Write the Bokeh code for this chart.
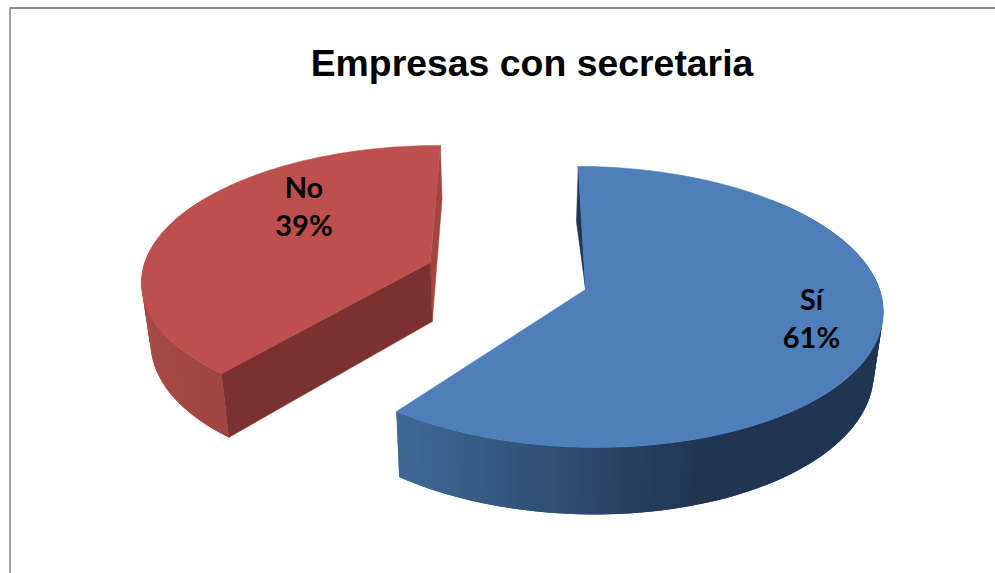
import numpy as np
from bokeh.core.properties import value
from bokeh.embed import file_html
from bokeh.models import Range1d
from bokeh.plotting import figure
from bokeh.resources import INLINE

# Chart content
title = "Empresas con secretaria"
categories = ["Sí", "No"]
shares = [61, 39]

# Colours
top_colours = ["#4e7fba", "#bd504c"]
front_wall = ["#1f3552", "#7c3130"]
back_wall = ["#1f3552", "#a5453f"]
rim_stops = [
    [(396, "#3f6998"), (500, "#34587f"), (600, "#2b4668"), (700, "#1f3552"), (890, "#1f3552")],
    [(140, "#a64b46"), (230, "#9e4541")],
]

# Projection of the tilted, exploded pie
WIDTH, HEIGHT = 995, 573
OX, OY = 506.5, 275.3
SCALE_X, SCALE_Y = 290.5, 135.0
PERSPECTIVE = 0.1225
EXPLODE_X, EXPLODE_Y = 0.267, 0.10
FIRST_ANGLE = -0.5
LOWER_SHRINK = 0.975
LOWER_DROP = 59.7
LOWER_STRETCH = 0.0427
# Per-slice corrections for the foreshortening of the 3D view
START_TRIM = [0.8, 0.6]
END_TRIM = [-1.8, 0.9]
RADIUS = [1.0, 0.995]


def project(gx, gy):
    w = 1 - PERSPECTIVE * gy
    return OX + SCALE_X * gx / w, OY + SCALE_Y * gy / w


def lower(x, y):
    """Point on the bottom face under a point of the top face."""
    return OX + (x - OX) * LOWER_SHRINK, y + LOWER_DROP + LOWER_STRETCH * (y - OY)


def rim(phi, side, radius):
    r = np.radians(phi)
    return project(side * EXPLODE_X + radius * np.sin(r), side * EXPLODE_Y - radius * np.cos(r))


def hex_lerp(stops, x):
    xs = [s[0] for s in stops]
    rgb = [[int(s[1][i:i + 2], 16) for s in stops] for i in (1, 3, 5)]
    return "#%02x%02x%02x" % tuple(int(round(np.interp(x, xs, c))) for c in rgb)


p = figure(width=WIDTH, height=HEIGHT, output_backend="svg", toolbar_location=None,
           x_range=Range1d(0, WIDTH), y_range=Range1d(HEIGHT, 0),
           min_border=0, outline_line_color=None)
p.axis.visible = False
p.grid.visible = False

# Chart frame: only its top and left edges fall inside the page
p.line([9.5, 9.5], [8, HEIGHT], line_color="#a3a3a3", line_width=2)
p.line([9, WIDTH], [7.5, 7.5], line_color="#8c8c8c", line_width=2)

spans = [s / sum(shares) * 360 for s in shares]
starts = [FIRST_ANGLE, FIRST_ANGLE + spans[0]]
sides = [1, -1]

for i in (1, 0):
    start, side = starts[i] + START_TRIM[i], sides[i]
    end = starts[i] + spans[i] + END_TRIM[i]
    phis = np.linspace(start, end, 121)
    rx, ry = rim(phis, side, RADIUS[i])
    ax, ay = project(side * EXPLODE_X, side * EXPLODE_Y)
    lx, ly = lower(rx, ry)
    alx, aly = lower(ax, ay)

    if side == -1:
        # Both radial walls show on the detached slice
        p.patch([ax, rx[-1], lx[-1], alx], [ay, ry[-1], ly[-1], aly],
                fill_color=back_wall[i], line_color=back_wall[i], line_width=0.5)
        p.patch([ax, rx[0], lx[0], alx], [ay, ry[0], ly[0], aly],
                fill_color=front_wall[i], line_color=front_wall[i], line_width=0.5)
    else:
        # Narrow sliver of the far wall beside the larger slice
        p.patch([ax, rx[0], lx[0]], [ay, ry[0], ly[0]],
                fill_color=back_wall[i], line_color=back_wall[i], line_width=0.5)

    # Outer wall, shaded strip by strip; each strip overlaps the next one
    xs_list, ys_list, cols = [], [], []
    order = range(len(phis) - 1) if side == 1 else range(len(phis) - 2, -1, -1)
    for j in order:
        if not 45 <= phis[j] <= 300:
            continue
        k = min(j + 2, len(phis) - 1) if side == 1 else j + 1
        m = j if side == 1 else max(j - 1, 0)
        xs_list.append([rx[m], rx[k], lx[k], lx[m]])
        ys_list.append([ry[m], ry[k], ly[k], ly[m]])
        cols.append(hex_lerp(rim_stops[i], (rx[j] + rx[j + 1]) / 2))
    p.patches(xs_list, ys_list, fill_color=cols, line_color=None)

    # Top face
    p.patch(list(rx) + [ax], list(ry) + [ay], fill_color=top_colours[i],
            line_color=top_colours[i], line_width=0.5)

# Title and data labels
p.text([531.5], [62], text=[title], text_font=value("Liberation Sans"), text_font_style="bold",
       text_font_size="37.4px", text_align="center", text_baseline="middle", text_color="#000000")

label_font = value("Lato")
for name, share, lx_, ly_ in zip(categories, shares, [811, 303.5], [298, 185.5]):
    p.text([lx_], [ly_], text=[name], text_font=label_font, text_font_style="bold",
           text_font_size="29px", text_align="center", text_baseline="middle", text_color="#000000")
    p.text([lx_], [ly_ + 38], text=[f"{share}%"], text_font=label_font, text_font_style="bold",
           text_font_size="29px", text_align="center", text_baseline="middle", text_color="#000000")

open("out.html", "w").write(file_html(p, INLINE))
